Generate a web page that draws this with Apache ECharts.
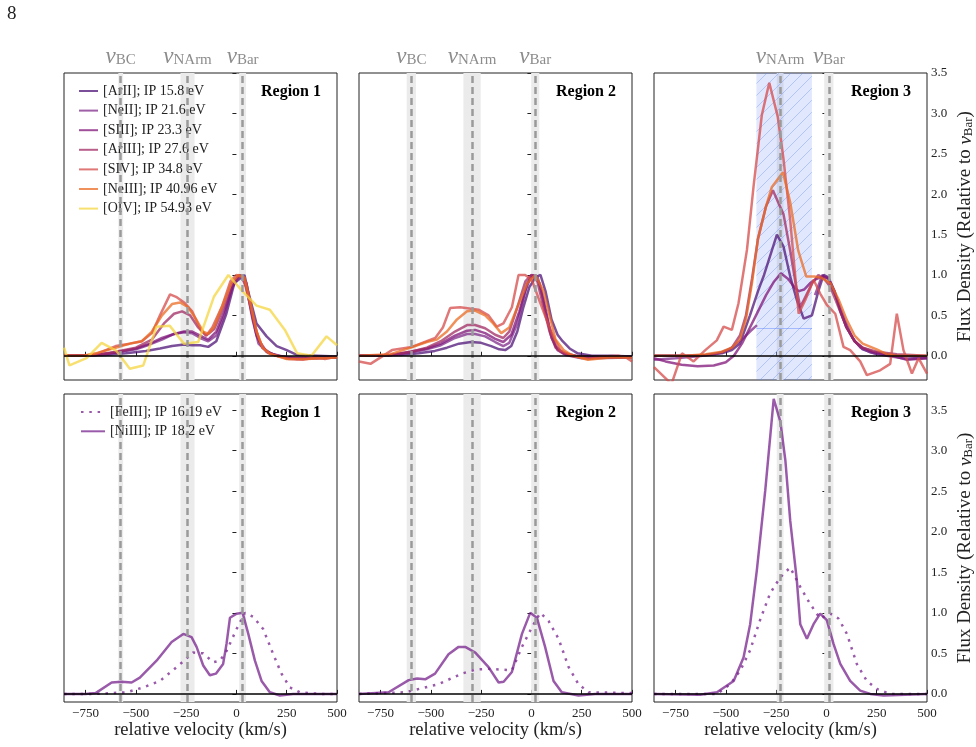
<!DOCTYPE html>
<html>
<head>
<meta charset="utf-8">
<script src="https://cdn.jsdelivr.net/npm/echarts@6/dist/echarts.min.js"></script>
<style>
  html, body { margin: 0; padding: 0; background: #fff; }
  #chart { width: 976px; height: 747px; }
</style>
</head>
<body>
<div id="chart"></div>
<script>
const FONT = 'Liberation Serif';

// axes
const xTicks = [-750, -500, -250, 0, 250, 500];
const yTicks = [0, 0.5, 1, 1.5, 2, 2.5, 3, 3.5];
const xRange = [-857, 500];
const yRangeTop = [-0.3, 3.5];
const yRangeBottom = [-0.1, 3.7];

// legend names
const topNames = ['[ArII]; IP 15.8 eV', '[NeII]; IP 21.6 eV', '[SIII]; IP 23.3 eV', '[ArIII]; IP 27.6 eV',
  '[SIV]; IP 34.8 eV', '[NeIII]; IP 40.96 eV', '[OIV]; IP 54.93 eV'];
const topColors = ['#4f1478', '#802b8b', '#801578', '#a02b63', '#d64b4b', '#eb6b23', '#f6d640'];
const bottomNames = ['[FeIII]; IP 16.19 eV', '[NiIII]; IP 18.2 eV'];
const bottomColor = '#78238e';

// velocity components per region (km/s) and half-width of their shaded band
const vBC = [-575, -597, null];
const vBCHalf = [12, 23, 0];
const vNArm = [-243, -295, -230];
const vNArmHalf = [35, 43, 17];
const vBar = [31, 19, 12];
const vBarHalf = [17, 20, 23];
const maskRange = [-348, -72];
const maskLevel = 0.345;

// ---- Region 1, top
const r1ArII = [[-857,0],[-750,0],[-650,0.01],[-550,0.03],[-450,0.06],[-380,0.09],[-320,0.12],[-260,0.14],[-220,0.13],[-180,0.13],[-140,0.11],[-100,0.18],[-50,0.52],[-10,0.9],[40,1.0],[58,0.8],[100,0.4],[150,0.24],[200,0.12],[250,0.07],[300,0.01],[400,0],[500,-0.01]];
const r1NeII = [[-857,0],[-700,0.01],[-600,0.04],[-500,0.08],[-430,0.14],[-370,0.2],[-310,0.27],[-260,0.29],[-220,0.28],[-180,0.22],[-140,0.18],[-100,0.25],[-60,0.5],[-20,0.85],[20,1.0],[50,0.85],[80,0.45],[110,0.15],[150,0.05],[200,0.0],[300,-0.03],[500,-0.02]];
const r1SIII = [[-857,0],[-700,0.01],[-600,0.04],[-500,0.09],[-430,0.15],[-370,0.22],[-310,0.27],[-260,0.3],[-220,0.3],[-180,0.25],[-140,0.2],[-100,0.3],[-60,0.55],[-20,0.85],[10,1.0],[40,0.95],[70,0.6],[100,0.25],[130,0.1],[170,0.03],[250,-0.02],[400,-0.03],[500,-0.02]];
const r1ArIII = [[-857,0],[-700,0.01],[-600,0.05],[-500,0.1],[-420,0.2],[-360,0.4],[-310,0.52],[-270,0.55],[-230,0.5],[-190,0.35],[-150,0.25],[-110,0.33],[-60,0.62],[-20,0.9],[20,1.0],[50,0.9],[80,0.5],[110,0.2],[150,0.05],[200,0.0],[300,-0.04],[500,-0.02]];
const r1SIV = [[-857,0],[-760,0.0],[-700,0.02],[-640,0.08],[-600,0.12],[-530,0.15],[-470,0.18],[-420,0.28],[-380,0.5],[-330,0.76],[-300,0.73],[-260,0.66],[-220,0.55],[-180,0.33],[-150,0.25],[-120,0.35],[-70,0.62],[-30,0.92],[0,1.0],[35,0.96],[70,0.62],[100,0.3],[130,0.1],[160,0.03],[200,0.0],[260,-0.04],[330,-0.05],[400,-0.02],[440,-0.04],[500,-0.01]];
const r1NeIII = [[-857,0],[-760,0.0],[-700,0.03],[-600,0.1],[-530,0.15],[-470,0.18],[-420,0.3],[-370,0.5],[-320,0.64],[-280,0.66],[-240,0.6],[-200,0.45],[-165,0.3],[-140,0.27],[-110,0.36],[-65,0.65],[-25,0.9],[10,1.0],[40,0.97],[70,0.65],[100,0.3],[130,0.1],[170,0.02],[250,-0.04],[350,-0.04],[500,-0.02]];
const r1OIV = [[-857,0.10],[-830,-0.12],[-745,-0.03],[-670,0.16],[-596,0.06],[-530,-0.16],[-463,-0.12],[-397,0.36],[-331,0.37],[-261,0.15],[-190,0.17],[-112,0.73],[-40,1.0],[26,0.81],[100,0.62],[166,0.57],[241,0.32],[302,0.03],[373,0.0],[448,0.24],[500,0.13]];

// ---- Region 2, top
const r2ArII = [[-857,0],[-750,0],[-650,0.01],[-560,0.03],[-480,0.06],[-420,0.1],[-360,0.15],[-300,0.17],[-250,0.16],[-200,0.12],[-160,0.08],[-130,0.07],[-100,0.12],[-70,0.3],[-40,0.6],[-10,0.85],[20,0.97],[45,1.0],[70,0.8],[100,0.45],[130,0.26],[155,0.18],[190,0.09],[230,0.03],[300,0.0],[400,0.0],[500,-0.01]];
const r2NeII = [[-857,0],[-700,0.01],[-600,0.04],[-520,0.08],[-450,0.13],[-380,0.22],[-320,0.27],[-280,0.27],[-230,0.24],[-180,0.17],[-140,0.12],[-110,0.16],[-70,0.4],[-30,0.8],[0,1.0],[30,0.98],[60,0.7],[90,0.35],[120,0.12],[160,0.03],[220,0.0],[350,-0.01],[500,-0.01]];
const r2SIII = [[-857,0],[-700,0.01],[-600,0.05],[-520,0.09],[-450,0.15],[-380,0.25],[-320,0.31],[-280,0.32],[-230,0.28],[-180,0.21],[-140,0.17],[-100,0.26],[-60,0.55],[-20,0.9],[10,1.0],[40,0.9],[70,0.55],[100,0.22],[130,0.07],[170,0.01],[250,-0.03],[400,-0.02],[500,-0.02]];
const r2ArIII = [[-857,0],[-700,0.01],[-600,0.05],[-520,0.1],[-450,0.18],[-380,0.3],[-320,0.38],[-280,0.38],[-230,0.34],[-180,0.26],[-140,0.22],[-110,0.3],[-70,0.6],[-30,0.92],[0,1.0],[30,0.92],[60,0.6],[90,0.3],[120,0.1],[160,0.03],[220,0.0],[300,-0.03],[500,-0.02]];
const r2SIV = [[-857,-0.07],[-800,-0.1],[-693,0.07],[-594,0.11],[-478,0.22],[-440,0.35],[-404,0.59],[-354,0.6],[-263,0.57],[-213,0.5],[-172,0.36],[-139,0.4],[-97,0.6],[-64,1.0],[-31,1.0],[2,0.94],[52,0.6],[101,0.28],[143,0.07],[201,0.0],[284,-0.04],[350,-0.01],[433,0.0],[470,-0.02],[500,-0.07]];
const r2NeIII = [[-857,0],[-700,0.02],[-600,0.1],[-520,0.17],[-470,0.2],[-420,0.3],[-370,0.45],[-320,0.55],[-280,0.56],[-230,0.5],[-190,0.4],[-150,0.28],[-110,0.35],[-70,0.6],[-20,0.9],[20,1.0],[60,0.8],[90,0.5],[120,0.2],[160,0.07],[200,0.01],[280,-0.05],[400,-0.02],[500,-0.02]];

// ---- Region 3, top
const r3ArII = [[-857,0],[-700,0],[-600,0.01],[-520,0.03],[-470,0.07],[-430,0.15],[-380,0.5],[-340,0.8],[-310,1.0],[-246,1.5],[-213,1.35],[-180,0.98],[-147,0.69],[-113,0.46],[-72,0.5],[-40,0.8],[-14,1.0],[10,0.97],[40,0.8],[70,0.55],[100,0.35],[140,0.18],[180,0.08],[250,0.02],[350,0.0],[500,-0.02]];
const r3NeII = [[-857,-0.05],[-750,-0.03],[-650,-0.01],[-550,0.02],[-480,0.08],[-420,0.2],[-380,0.3],[-345,0.38],[-200,null],[-57,0.75],[-20,1.0],[10,0.95],[50,0.72],[90,0.45],[130,0.22],[170,0.1],[220,0.04],[300,0],[400,-0.04],[500,-0.03]];
const r3SIII = [[-857,-0.03],[-800,-0.07],[-720,-0.11],[-640,-0.13],[-560,-0.12],[-500,-0.08],[-460,0.0],[-420,0.15],[-380,0.35],[-340,0.55],[-300,0.75],[-260,0.92],[-226,1.02],[-190,0.95],[-160,0.85],[-138,0.8],[-110,0.82],[-80,0.9],[-50,0.95],[-20,0.98],[10,0.96],[40,0.8],[70,0.55],[100,0.35],[140,0.18],[180,0.1],[230,0.05],[300,0.02],[400,-0.05],[500,-0.03]];
const r3ArIII = [[-857,0],[-700,0],[-600,0.01],[-520,0.04],[-470,0.1],[-430,0.25],[-400,0.5],[-370,0.95],[-340,1.45],[-300,1.85],[-266,2.05],[-240,1.9],[-213,1.75],[-180,1.3],[-150,0.85],[-130,0.6],[-100,0.75],[-70,0.9],[-40,1.0],[-10,0.95],[20,0.85],[60,0.6],[100,0.35],[140,0.18],[180,0.1],[250,0.05],[350,0.02],[500,0.0]];
const r3SIV = [[-857,-0.14],[-770,-0.35],[-718,0.03],[-660,-0.07],[-602,0.07],[-545,0.19],[-511,0.36],[-470,0.32],[-437,0.65],[-395,1.31],[-362,2.1],[-321,2.98],[-284,3.38],[-242,2.96],[-213,2.43],[-180,1.68],[-138,0.52],[-105,0.69],[-64,0.94],[-31,0.77],[2,0.63],[44,0.52],[85,0.11],[118,0.07],[168,-0.07],[201,-0.24],[267,-0.18],[317,-0.1],[350,0.52],[383,0.07],[425,-0.22],[458,-0.03],[500,-0.22]];
const r3NeIII = [[-857,0],[-700,0],[-600,0.02],[-520,0.05],[-470,0.1],[-430,0.2],[-400,0.45],[-370,0.9],[-340,1.45],[-300,1.85],[-271,2.09],[-216,2.27],[-180,1.9],[-140,1.3],[-100,0.98],[-60,0.98],[-30,0.97],[20,0.9],[60,0.7],[100,0.45],[140,0.25],[180,0.15],[250,0.08],[300,0.02],[350,0],[500,0]];

// ---- bottom row: [FeIII] (dotted) and [NiIII] (solid)
const r1FeIII = [[-857,0],[-700,0],[-546,0.02],[-463,0.08],[-380,0.16],[-297,0.33],[-215,0.51],[-165,0.5],[-115,0.39],[-82,0.41],[-49,0.53],[1,0.8],[42,1.0],[84,0.95],[133,0.8],[183,0.49],[224,0.25],[266,0.08],[315,0.02],[415,0],[500,0]];
const r1NiIII = [[-857,0],[-750,0],[-700,0.01],[-620,0.14],[-571,0.15],[-521,0.14],[-480,0.2],[-397,0.41],[-322,0.64],[-264,0.74],[-223,0.7],[-198,0.58],[-165,0.35],[-132,0.23],[-102,0.25],[-66,0.37],[-49,0.62],[-32,0.94],[1,0.99],[31,1.0],[59,0.74],[92,0.41],[125,0.16],[166,0.02],[216,-0.02],[282,0],[500,0]];
const r2FeIII = [[-857,0],[-627,0.02],[-461,0.12],[-346,0.25],[-279,0.3],[-213,0.31],[-147,0.3],[-97,0.29],[-47,0.58],[2,0.82],[44,1.0],[85,0.9],[135,0.68],[185,0.33],[234,0.12],[284,0.02],[500,0.01]];
const r2NiIII = [[-857,0],[-710,0.02],[-610,0.17],[-568,0.19],[-528,0.18],[-479,0.25],[-412,0.49],[-362,0.58],[-329,0.58],[-279,0.51],[-213,0.33],[-163,0.14],[-138,0.15],[-97,0.27],[-47,0.74],[-6,1.0],[27,0.94],[68,0.58],[110,0.16],[151,0.02],[234,-0.02],[317,0],[500,0]];
const r3FeIII = [[-857,0],[-544,0],[-478,0.12],[-428,0.29],[-379,0.54],[-330,0.91],[-280,1.24],[-229,1.44],[-180,1.56],[-130,1.32],[-81,1.11],[-31,0.93],[19,0.99],[60,0.93],[102,0.74],[151,0.37],[201,0.16],[251,0.06],[317,0],[500,0]];
const r3NiIII = [[-857,0],[-627,-0.01],[-544,0.02],[-461,0.16],[-412,0.45],[-379,0.86],[-346,1.52],[-304,2.51],[-262,3.64],[-229,3.36],[-204,2.88],[-180,2.14],[-147,1.4],[-130,0.86],[-97,0.68],[-64,0.86],[-31,0.99],[2,0.91],[35,0.62],[69,0.37],[118,0.16],[168,0.04],[218,0],[284,-0.02],[500,0]];

const topRegions = [
  [r1ArII, r1NeII, r1SIII, r1ArIII, r1SIV, r1NeIII, r1OIV],
  [r2ArII, r2NeII, r2SIII, r2ArIII, r2SIV, r2NeIII],
  [r3ArII, r3NeII, r3SIII, r3ArIII, r3SIV, r3NeIII]
];
const bottomRegions = [[r1FeIII, r1NiIII], [r2FeIII, r2NiIII], [r3FeIII, r3NiIII]];

// ---- layout
const colLeft = [64, 359, 654];
const colWidth = 273;
const rowTop = [73, 394];
const rowHeight = [307, 308];

function hatch() {
  const c = document.createElement('canvas');
  c.width = 12; c.height = 12;
  const g = c.getContext('2d');
  g.fillStyle = 'rgba(90,130,250,0.18)';
  g.fillRect(0, 0, 12, 12);
  g.strokeStyle = 'rgba(90,130,250,0.5)';
  g.lineWidth = 0.7;
  g.beginPath();
  g.moveTo(0, 12); g.lineTo(12, 0);
  g.moveTo(-6, 6); g.lineTo(6, -6);
  g.moveTo(6, 18); g.lineTo(18, 6);
  g.stroke();
  return c;
}

const minus = v => (v < 0 ? '\u2212' + (-v) : '' + v);
const vRich = {
  v: { fontFamily: FONT, fontStyle: 'italic', fontSize: 23, lineHeight: 24, color: '#8c8c8c', verticalAlign: 'bottom' },
  s: { fontFamily: FONT, fontSize: 15, lineHeight: 15, color: '#8c8c8c', verticalAlign: 'bottom' }
};

const grids = [], xAxes = [], yAxes = [], series = [], graphics = [];

for (let r = 0; r < 2; r++) {
  for (let c = 0; c < 3; c++) {
    const i = r * 3 + c;
    grids.push({ left: colLeft[c], top: rowTop[r], width: colWidth, height: rowHeight[r],
      show: true, borderColor: '#222', borderWidth: 1, backgroundColor: 'transparent' });

    xAxes.push({
      type: 'value', gridIndex: i, min: xRange[0], max: xRange[1],
      axisLine: { show: false },
      axisTick: { show: true, inside: true, length: 4, customValues: xTicks, lineStyle: { color: '#222' } },
      axisLabel: { show: r === 1, customValues: xTicks, formatter: minus, margin: 5,
        fontFamily: FONT, fontSize: 13, color: '#222' },
      splitLine: { show: false },
      name: r === 1 ? 'relative velocity (km/s)' : '', nameLocation: 'middle', nameGap: 19,
      nameTextStyle: { fontFamily: FONT, fontSize: 18.5, color: '#222' }
    });

    const yr = r === 0 ? yRangeTop : yRangeBottom;
    yAxes.push({
      type: 'value', gridIndex: i, position: 'right', min: yr[0], max: yr[1],
      axisLine: { show: false },
      axisTick: { show: true, inside: true, length: 4, customValues: yTicks, lineStyle: { color: '#222' } },
      axisLabel: { show: c === 2, customValues: yTicks, formatter: v => v.toFixed(1), margin: 4,
        fontFamily: FONT, fontSize: 13, color: '#222' },
      splitLine: { show: false },
      name: c === 2 ? '{a|Flux Density (Relative to }{i|v}{s|Bar}{a|)}' : '',
      nameLocation: 'middle', nameRotate: 90, nameGap: 26,
      nameTextStyle: {
        rich: {
          a: { fontFamily: FONT, fontSize: 19, lineHeight: 22, color: '#222', verticalAlign: 'bottom' },
          i: { fontFamily: FONT, fontSize: 19, lineHeight: 22, fontStyle: 'italic', color: '#222', verticalAlign: 'bottom' },
          s: { fontFamily: FONT, fontSize: 13, lineHeight: 13, color: '#222', verticalAlign: 'bottom' }
        }
      }
    });

    // shaded velocity bands
    const areas = [];
    if (vBC[c] !== null) areas.push([{ xAxis: vBC[c] - vBCHalf[c] }, { xAxis: vBC[c] + vBCHalf[c] }]);
    areas.push([{ xAxis: vNArm[c] - vNArmHalf[c] }, { xAxis: vNArm[c] + vNArmHalf[c] }]);
    areas.push([{ xAxis: vBar[c] - vBarHalf[c] }, { xAxis: vBar[c] + vBarHalf[c] }]);
    if (i === 2) areas.push([{ xAxis: maskRange[0], itemStyle: { color: { image: hatch(), repeat: 'repeat' } } },
      { xAxis: maskRange[1] }]);
    series.push({
      type: 'line', data: [], xAxisIndex: i, yAxisIndex: i, z: 1, silent: true,
      markArea: { silent: true, itemStyle: { color: '#ebebeb' }, data: areas }
    });

    // dashed component lines + zero line
    const lab = (sub) => ({ show: r === 0, position: 'end', distance: 5, formatter: '{v|v}{s|' + sub + '}', rich: vRich });
    const lines = [];
    if (vBC[c] !== null) lines.push({ xAxis: vBC[c], label: lab('BC') });
    lines.push({ xAxis: vNArm[c], label: lab('NArm') });
    lines.push({ xAxis: vBar[c], label: lab('Bar') });
    lines.push({ yAxis: 0, label: { show: false }, lineStyle: { color: '#000', type: 'solid', width: 1.5 } });
    if (i === 2) lines.push([{ coord: [maskRange[0], maskLevel], lineStyle: { color: 'rgba(90,130,250,0.45)', type: 'solid', width: 1 } },
      { coord: [maskRange[1], maskLevel] }]);
    series.push({
      type: 'line', data: [], xAxisIndex: i, yAxisIndex: i, z: 2, silent: true,
      markLine: { silent: true, symbol: ['none', 'none'], animation: false,
        lineStyle: { color: '#9a9a9a', type: [7, 4], width: 2.5 },
        label: { show: false }, data: lines }
    });

    // spectra
    if (r === 0) {
      topRegions[c].forEach((d, k) => {
        series.push({
          type: 'line', name: topNames[k], data: d, xAxisIndex: i, yAxisIndex: i, z: 3,
          symbol: 'none', showSymbol: false, silent: true, connectNulls: false,
          itemStyle: { color: topColors[k], opacity: 0.75 },
          lineStyle: { color: topColors[k], width: 2.5, opacity: 0.75 }
        });
      });
    } else {
      bottomRegions[c].forEach((d, k) => {
        series.push({
          type: 'line', name: bottomNames[k], data: d, xAxisIndex: i, yAxisIndex: i, z: 3,
          symbol: 'none', showSymbol: false, silent: true,
          itemStyle: { color: bottomColor, opacity: 0.75 },
          lineStyle: { color: bottomColor, width: 2.5, opacity: 0.75, type: k === 0 ? [2.5, 5.8] : 'solid' }
        });
      });
    }

    graphics.push({
      type: 'text', x: colLeft[c] + colWidth - 16, y: rowTop[r] + 19,
      style: { text: 'Region ' + (c + 1), font: 'bold 16px "Liberation Serif"', fill: '#000',
        textAlign: 'right', textVerticalAlign: 'middle' }
    });
  }
}

graphics.push({ type: 'text', x: 7, y: 5, style: { text: '8', font: '19px "Liberation Serif"', fill: '#222' } });

const legendText = { fontFamily: FONT, fontSize: 14, lineHeight: 14, color: '#222', padding: [0, 0, 0, 0] };

const chart = echarts.init(document.getElementById('chart'));
chart.setOption({
  animation: false,
  backgroundColor: '#fff',
  grid: grids,
  xAxis: xAxes,
  yAxis: yAxes,
  legend: [
    { data: topNames, orient: 'vertical', left: 73, top: 79, itemWidth: 19, itemHeight: 14, itemGap: 5.6,
      selectedMode: false, textStyle: legendText, itemStyle: { opacity: 0 } },
    { data: bottomNames, orient: 'vertical', left: 75, top: 400, itemWidth: 24, itemHeight: 14, itemGap: 5.3,
      selectedMode: false, textStyle: legendText, itemStyle: { opacity: 0 } }
  ],
  graphic: graphics,
  series: series
});
</script>
</body>
</html>
